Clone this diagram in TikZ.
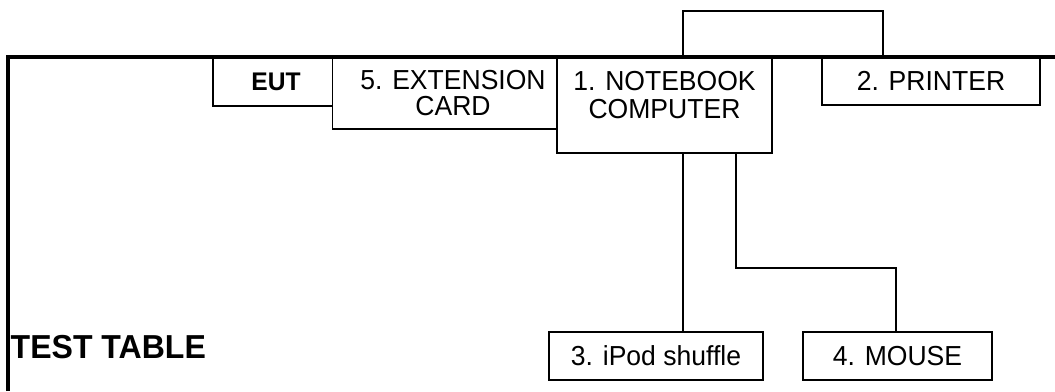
\documentclass[tikz,border=0pt]{standalone}
\usepackage{fontspec}
\setmainfont{Liberation Sans}[FakeStretch=0.965]
\usetikzlibrary{positioning}

\begin{document}
\begin{tikzpicture}[
        x=1pt, y=-1pt, % pixel-like units, y grows downwards
        box/.style={draw, fill=white, line width=1.6pt, inner sep=0pt,
            align=center, font=\fontsize{27.5}{26}\selectfont},
        wire/.style={line width=1.6pt},
        edge/.style={line width=4.5pt},
    ]
        \useasboundingbox[fill=white] (0,0) rectangle (1055,391);

        % Boxes on the table
        \node[box, minimum width=126.6, minimum height=48.5,
            font=\bfseries\fontsize{25.5}{26}\selectfont] (eut) at (276,82) {EUT};
        \node[box, minimum width=241, minimum height=72] (card) at (453,93)
            {5. EXTENSION\\CARD};
        \node[box, minimum width=215, minimum height=96,
            label={[inner sep=0pt, anchor=north, yshift=-15pt, align=center,
                font=\fontsize{27.5}{27.5}\selectfont]north:1. NOTEBOOK\\COMPUTER}]
            (notebook) at (664.5,105) {};
        \node[box, minimum width=218, minimum height=48] (printer) at (931,81) {2. PRINTER};

        % Boxes below
        \node[box, minimum width=214, minimum height=48] (ipod) at (656,356) {3. iPod shuffle};
        \node[box, minimum width=189, minimum height=48] (mouse) at (897.5,356) {4. MOUSE};

        % Cables
        \draw[wire] ([xshift=18.5pt]notebook.north) -- ++(0,-45)
            -| ([xshift=-48pt]printer.north);
        \draw[wire] ([xshift=18.5pt]notebook.south)
            -- ([xshift=18.5pt]notebook.south |- ipod.north);
        \draw[wire] ([xshift=71.5pt]notebook.south) -- ++(0,114)
            -| ([xshift=-1.5pt]mouse.north);

        % Table edge
        \draw[edge] (8,391) -- (8,57) -- (1055,57);
        \node[anchor=base west, inner sep=0pt,
            font=\bfseries\fontsize{33.2}{38}\selectfont] (table) at (10.5,358) {TEST TABLE};

\end{tikzpicture}
\end{document}
